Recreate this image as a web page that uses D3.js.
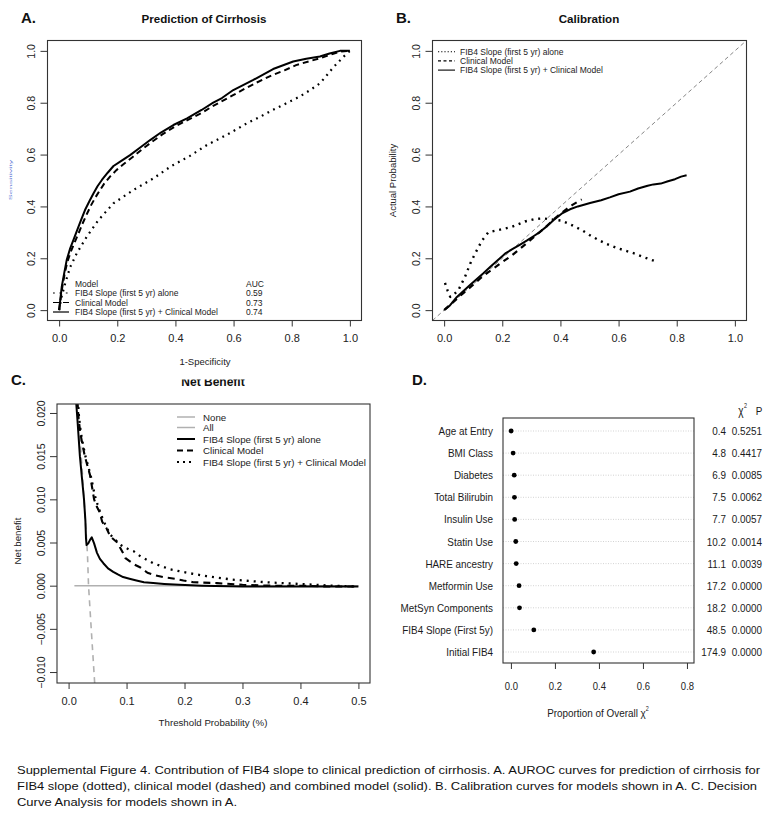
<!DOCTYPE html>
<html><head><meta charset="utf-8">
<script src="https://cdn.jsdelivr.net/npm/d3@7"></script>
<style>body{margin:0;background:#fff} text{font-family:"Liberation Sans",Arial,sans-serif}</style>
</head><body>
<svg id="fig" width="773" height="816"></svg>
<script>
// ---------- Panel A: ROC ----------
const rocTicks = [0, 0.2, 0.4, 0.6, 0.8, 1.0];
const rocFIB4 = [[0,0],[0.008,0.05],[0.021,0.104],[0.038,0.166],[0.061,0.22],[0.095,0.283],[0.135,0.347],[0.187,0.412],[0.255,0.463],[0.324,0.508],[0.385,0.555],[0.45,0.595],[0.51,0.638],[0.575,0.675],[0.645,0.72],[0.69,0.745],[0.735,0.772],[0.78,0.797],[0.828,0.824],[0.865,0.85],[0.897,0.875],[0.92,0.905],[0.942,0.935],[0.965,0.962],[0.985,0.985],[1,1]];
const rocClinical = [[0,0],[0.006,0.05],[0.011,0.09],[0.019,0.14],[0.028,0.185],[0.04,0.225],[0.053,0.26],[0.07,0.305],[0.083,0.34],[0.095,0.37],[0.11,0.405],[0.125,0.435],[0.14,0.462],[0.155,0.488],[0.175,0.515],[0.197,0.54],[0.22,0.562],[0.252,0.59],[0.285,0.62],[0.318,0.648],[0.355,0.678],[0.398,0.708],[0.445,0.735],[0.49,0.76],[0.53,0.788],[0.555,0.803],[0.6,0.83],[0.64,0.855],[0.68,0.878],[0.73,0.905],[0.775,0.925],[0.815,0.945],[0.86,0.96],[0.9,0.972],[0.94,0.988],[0.97,0.998],[1,1]];
const rocCombined = [[0,0],[0.005,0.05],[0.009,0.09],[0.017,0.14],[0.026,0.193],[0.037,0.235],[0.049,0.27],[0.066,0.32],[0.078,0.355],[0.089,0.386],[0.104,0.42],[0.118,0.45],[0.132,0.478],[0.147,0.502],[0.167,0.53],[0.187,0.556],[0.21,0.573],[0.244,0.598],[0.28,0.628],[0.313,0.656],[0.35,0.685],[0.393,0.714],[0.44,0.74],[0.49,0.772],[0.53,0.8],[0.56,0.818],[0.599,0.849],[0.668,0.888],[0.736,0.93],[0.805,0.959],[0.85,0.97],[0.897,0.978],[0.93,0.99],[0.966,1.0],[1,1]];
const aucModels = ["FIB4 Slope (first 5 yr) alone", "Clinical Model", "FIB4 Slope (first 5 yr) + Clinical Model"];
const aucValues = ["0.59", "0.73", "0.74"];

// ---------- Panel B: calibration ----------
const calTicks = [0, 0.2, 0.4, 0.6, 0.8, 1.0];
const calFIB4 = [[0.003,0.105],[0.012,0.075],[0.021,0.051],[0.035,0.062],[0.049,0.077],[0.072,0.129],[0.09,0.18],[0.105,0.215],[0.13,0.268],[0.152,0.3],[0.187,0.309],[0.233,0.321],[0.278,0.342],[0.31,0.351],[0.34,0.354],[0.37,0.35],[0.404,0.345],[0.439,0.328],[0.473,0.309],[0.507,0.285],[0.553,0.258],[0.599,0.238],[0.656,0.218],[0.69,0.203],[0.733,0.186]];
const calClinical = [[0.0,0.0],[0.05,0.05],[0.1,0.098],[0.124,0.122],[0.151,0.146],[0.175,0.165],[0.198,0.184],[0.232,0.21],[0.272,0.247],[0.313,0.286],[0.347,0.318],[0.381,0.354],[0.41,0.38],[0.44,0.405],[0.473,0.427]];
const calCombined = [[0.003,0.003],[0.02,0.018],[0.044,0.051],[0.089,0.097],[0.135,0.142],[0.16,0.168],[0.192,0.2],[0.212,0.22],[0.233,0.234],[0.26,0.252],[0.284,0.268],[0.31,0.287],[0.33,0.302],[0.355,0.325],[0.376,0.347],[0.404,0.372],[0.433,0.389],[0.46,0.4],[0.502,0.413],[0.54,0.424],[0.57,0.435],[0.6,0.447],[0.639,0.457],[0.667,0.469],[0.7,0.48],[0.72,0.485],[0.745,0.488],[0.77,0.497],[0.794,0.505],[0.815,0.515],[0.834,0.52]];

// ---------- Panel C: net benefit ----------
const nbTicksX = [0, 0.1, 0.2, 0.3, 0.4, 0.5];
const nbTicksY = [-0.010, -0.005, 0, 0.005, 0.010, 0.015, 0.020];
const nbNone = [[0.01,0],[0.5,0]];
const nbAll = [[0.016,0.0212],[0.020,0.0168],[0.025,0.0118],[0.030,0.0064],[0.0326,0.0036],[0.0344,0.0],[0.040,-0.0060],[0.0455,-0.0118]];
const nbFIB4 = [[0.0128,0.0215],[0.0155,0.019],[0.0195,0.015],[0.023,0.0125],[0.0266,0.010],[0.029,0.0075],[0.030,0.0055],[0.031,0.0047],[0.034,0.0049],[0.037,0.0053],[0.040,0.0056],[0.044,0.0049],[0.049,0.0038],[0.054,0.0031],[0.060,0.0026],[0.068,0.0020],[0.077,0.0016],[0.085,0.0013],[0.094,0.0010],[0.105,0.0008],[0.117,0.0006],[0.13,0.0004],[0.146,0.0003],[0.165,0.0002],[0.191,0.0001],[0.23,0.0],[0.3,-0.0001],[0.4,-0.0001],[0.5,-0.0001]];
const nbClinical = [[0.0151,0.0215],[0.017,0.0195],[0.020,0.0178],[0.024,0.0163],[0.028,0.0150],[0.032,0.0140],[0.037,0.0128],[0.044,0.0100],[0.049,0.0091],[0.053,0.0086],[0.058,0.0074],[0.065,0.0067],[0.072,0.0057],[0.084,0.0050],[0.093,0.0039],[0.098,0.0032],[0.112,0.0025],[0.124,0.0021],[0.136,0.0015],[0.15,0.0012],[0.163,0.0010],[0.184,0.0008],[0.198,0.0006],[0.215,0.0004],[0.256,0.0003],[0.3,0.0001],[0.35,0.0],[0.4,0.0],[0.45,-0.0001],[0.5,-0.0001]];
const nbCombined = [[0.016,0.0215],[0.018,0.0195],[0.021,0.0178],[0.025,0.0163],[0.029,0.0150],[0.034,0.0138],[0.039,0.0125],[0.045,0.0105],[0.050,0.0094],[0.055,0.0084],[0.061,0.0074],[0.066,0.0067],[0.072,0.0059],[0.081,0.0053],[0.086,0.0049],[0.095,0.0045],[0.104,0.0042],[0.112,0.0040],[0.124,0.0034],[0.146,0.0026],[0.175,0.0019],[0.204,0.0015],[0.238,0.0011],[0.283,0.0007],[0.34,0.0004],[0.398,0.0002],[0.455,0.0],[0.5,-0.0001]];
const nbLegend = ["None", "All", "FIB4 Slope (first 5 yr) alone", "Clinical Model", "FIB4 Slope (first 5 yr) + Clinical Model"];

// ---------- Panel D: variable importance ----------
const dLabels = ["Age at Entry","BMI Class","Diabetes","Total Bilirubin","Insulin Use","Statin Use","HARE ancestry","Metformin Use","MetSyn Components","FIB4 Slope (First 5y)","Initial FIB4"];
const dProp = [0.001,0.010,0.015,0.016,0.017,0.022,0.024,0.037,0.039,0.104,0.376];
const dChi2 = ["0.4","4.8","6.9","7.5","7.7","10.2","11.1","17.2","18.2","48.5","174.9"];
const dP = ["0.5251","0.4417","0.0085","0.0062","0.0057","0.0014","0.0039","0.0000","0.0000","0.0000","0.0000"];
const dTicks = [0, 0.2, 0.4, 0.6, 0.8];

const captionLines = [
  "Supplemental Figure 4. Contribution of FIB4 slope to clinical prediction of cirrhosis. A. AUROC curves for prediction of cirrhosis for",
  "FIB4 slope (dotted), clinical model (dashed) and combined model (solid). B. Calibration curves for models shown in A. C. Decision",
  "Curve Analysis for models shown in A."
];

// ================= drawing =================
const FONT = '"Liberation Sans", Arial, sans-serif';
const svg = d3.select("#fig");
svg.append("rect").attr("width", 773).attr("height", 816).attr("fill", "#fff");
const fmt1 = d3.format(".1f"), fmt3 = d3.format(".3f");

const STY = {
  solid:  {dash: null, w: 2},
  dashed: {dash: "6,4", w: 2},
  dotted: {dash: "1.8,4.6", w: 2.2}
};

function box(g, x, y) {
  const [x0, x1] = x.range(), [y1, y0] = y.range();
  g.append("rect").attr("x", x0).attr("y", y0).attr("width", x1 - x0).attr("height", y1 - y0)
    .attr("fill", "none").attr("stroke", "#333").attr("stroke-width", 1.1);
}
function bottomAxis(g, x, yPos, ticks, f, off, fs, sx) {
  const ax = g.append("g").attr("transform", `translate(0,${yPos})`)
    .call(d3.axisBottom(x).tickValues(ticks).tickFormat(f).tickSize(6).tickSizeOuter(0));
  ax.attr("font-family", FONT).attr("font-size", fs);
  ax.select(".domain").remove();
  ax.selectAll("line").attr("stroke", "#333");
  ax.selectAll("text").attr("y", off).attr("dy", 0).attr("fill", "#222")
    .attr("transform", sx ? `scale(${sx},1)` : null);
}
function leftAxis(g, y, xPos, ticks, f, off, fs) {
  const ax = g.append("g").attr("transform", `translate(${xPos},0)`)
    .call(d3.axisLeft(y).tickValues(ticks).tickFormat(f).tickSize(7).tickSizeOuter(0));
  ax.attr("font-family", FONT).attr("font-size", fs);
  ax.select(".domain").remove();
  ax.selectAll("line").attr("stroke", "#333");
  ax.selectAll("text").attr("x", 0).attr("y", 0).attr("dy", 0).attr("fill", "#222")
    .attr("text-anchor", "middle").attr("transform", `translate(${-off},0) rotate(-90)`);
}
function curve(g, data, x, y, st, color) {
  return g.append("path").datum(data)
    .attr("d", d3.line().x(d => x(d[0])).y(d => y(d[1])))
    .attr("fill", "none").attr("stroke", color || "#000")
    .attr("stroke-width", st.w).attr("stroke-dasharray", st.dash)
    .attr("stroke-linejoin", "round");
}
function text(g, s, x, y, o) {
  o = o || {};
  return g.append("text").attr("x", x).attr("y", y).text(s)
    .attr("font-size", o.fs || 10).attr("font-weight", o.bold ? "bold" : null)
    .attr("text-anchor", o.anchor || "start").attr("fill", o.fill || "#111")
    .attr("font-family", FONT);
}
function legendSample(g, x0, x1, y, st, color, w) {
  g.append("line").attr("x1", x0).attr("x2", x1).attr("y1", y).attr("y2", y)
    .attr("stroke", color || "#000").attr("stroke-width", w || st.w).attr("stroke-dasharray", st.dash);
}

// ---------- Panel A ----------
{
  const g = svg.append("g");
  const x = d3.scaleLinear([-0.04, 1.04], [47.5, 361.5]);
  const y = d3.scaleLinear([-0.04, 1.04], [320.5, 40.5]);
  text(g, "A.", 21, 23, {fs: 15, bold: true});
  text(g, "Prediction of Cirrhosis", 204, 23, {fs: 11.6, bold: true, anchor: "middle"});
  curve(g, rocFIB4, x, y, STY.dotted);
  curve(g, rocClinical, x, y, STY.dashed);
  curve(g, rocCombined, x, y, STY.solid);
  box(g, x, y);
  bottomAxis(g, x, 320.5, rocTicks, fmt1, 21.5, 11, null);
  leftAxis(g, y, 47.5, rocTicks, fmt1, 12.5, 10.5);
  text(g, "1-Specificity", 205, 365, {fs: 9.5, anchor: "middle", fill: "#222"});
  g.append("text").text("Sensitivity").attr("font-family", FONT).attr("font-size", 9)
    .attr("fill", "#3355cc").attr("opacity", 0.75).attr("text-anchor", "middle")
    .attr("transform", "translate(12,180) rotate(-90) scale(1,0.35)");
  const fs = 8.5;
  text(g, "Model", 75, 287, {fs, fill: "#222"});
  text(g, "AUC", 246, 287, {fs, fill: "#222"});
  const sts = [STY.dotted, STY.dashed, STY.solid];
  aucModels.forEach((m, i) => {
    const yy = 293 + i * 9.5;
    legendSample(g, 53, 69, yy, sts[i], "#000", 1.2);
    text(g, m, 75, yy + 3, {fs, fill: "#222"});
    text(g, aucValues[i], 246, yy + 3, {fs, fill: "#222"});
  });
}

// ---------- Panel B ----------
{
  const g = svg.append("g");
  const x = d3.scaleLinear([-0.04, 1.04], [432.5, 746.5]);
  const y = d3.scaleLinear([-0.04, 1.04], [320.5, 40.5]);
  text(g, "B.", 396, 23, {fs: 15, bold: true});
  text(g, "Calibration", 589, 23, {fs: 11.6, bold: true, anchor: "middle"});
  const dom = x.domain();
  g.append("line").attr("x1", x(dom[0])).attr("y1", y(dom[0])).attr("x2", x(dom[1])).attr("y2", y(dom[1]))
    .attr("stroke", "#666").attr("stroke-width", 0.8).attr("stroke-dasharray", "4,3");
  curve(g, calFIB4, x, y, {dash: "2,4.8", w: 2.4});
  curve(g, calClinical, x, y, {dash: "6,5", w: 2.2});
  curve(g, calCombined, x, y, STY.solid);
  box(g, x, y);
  bottomAxis(g, x, 320.5, calTicks, fmt1, 21.5, 11, null);
  leftAxis(g, y, 432.5, calTicks, fmt1, 12.5, 10.5);
  g.append("text").text("Actual Probability").attr("font-family", FONT).attr("font-size", 9.5)
    .attr("fill", "#222").attr("text-anchor", "middle")
    .attr("transform", "translate(396,180.5) rotate(-90)");
  const fs = 8.5;
  const sts = [{dash: "1.2,2", w: 1.1}, {dash: "3,2.5", w: 1.1}, {dash: null, w: 1.1}];
  aucModels.forEach((m, i) => {
    const yy = 51.7 + i * 9.2;
    legendSample(g, 438, 455, yy, sts[i], "#000", 1.1);
    text(g, m, 460, yy + 3, {fs, fill: "#222"});
  });
}

// ---------- Panel C ----------
{
  const g = svg.append("g");
  const x = d3.scaleLinear([-0.02, 0.52], [57, 370]);
  const y = d3.scaleLinear([-0.01127, 0.02104], [683, 404]);
  text(g, "C.", 11, 385, {fs: 15, bold: true});
  svg.append("clipPath").attr("id", "titleClip").append("rect").attr("x", 100).attr("y", 379.5).attr("width", 250).attr("height", 20);
  text(g, "Net Benefit", 213, 386, {fs: 12, bold: true, anchor: "middle"}).attr("clip-path", "url(#titleClip)");
  svg.append("clipPath").attr("id", "clipC").append("rect").attr("x", 57).attr("y", 404).attr("width", 313).attr("height", 279);
  const pg = g.append("g").attr("clip-path", "url(#clipC)");
  curve(pg, nbNone, x, y, {dash: null, w: 1.5}, "#b0b0b0");
  curve(pg, nbAll, x, y, {dash: "6,5", w: 1.6}, "#b0b0b0");
  curve(pg, nbFIB4, x, y, {dash: null, w: 2});
  curve(pg, nbClinical, x, y, {dash: "7,5", w: 2.1});
  curve(pg, nbCombined, x, y, {dash: "2,5", w: 2.3});
  box(g, x, y);
  bottomAxis(g, x, 683, nbTicksX, fmt1, 22, 11, null);
  leftAxis(g, y, 57, nbTicksY, fmt3, 12, 10.5);
  text(g, "Threshold Probability (%)", 213, 726, {fs: 9.7, anchor: "middle", fill: "#222"});
  g.append("text").text("Net benefit").attr("font-family", FONT).attr("font-size", 9.7)
    .attr("fill", "#222").attr("text-anchor", "middle")
    .attr("transform", "translate(21,541) rotate(-90)");
  const fs = 9.7;
  const sts = [{dash: null, w: 1.5, c: "#b0b0b0"}, {dash: null, w: 1.5, c: "#b0b0b0"}, {dash: null, w: 2, c: "#000"}, {dash: "6,4", w: 2, c: "#000"}, {dash: "2,4", w: 2, c: "#000"}];
  const ys = [417, 427.5, 439, 450.5, 462];
  nbLegend.forEach((m, i) => {
    legendSample(g, 177, 195, ys[i], sts[i], sts[i].c, sts[i].w);
    text(g, m, 203, ys[i] + 3.5, {fs, fill: "#222"});
  });
}

// ---------- Panel D ----------
{
  const g = svg.append("g");
  const x = d3.scaleLinear([-0.036, 0.832], [503, 694]);
  const y = d3.scalePoint(dLabels, [431, 652]);
  const yBox = d3.scaleLinear([0, 1], [663, 418]);
  text(g, "D.", 412, 385, {fs: 15, bold: true});
  const SX = 0.84;
  const nt = (s, px, py, o) => {
    o = o || {};
    return g.append("text").text(s).attr("font-family", FONT).attr("font-size", o.fs || 11.8)
      .attr("fill", "#1a1a1a").attr("text-anchor", o.anchor || "end")
      .attr("transform", `translate(${px},${py}) scale(${SX},1)`);
  };
  dLabels.forEach((lab, i) => {
    const yy = y(lab);
    g.append("line").attr("x1", 503).attr("x2", 694).attr("y1", yy).attr("y2", yy)
      .attr("stroke", "#c8c8c8").attr("stroke-width", 0.8).attr("stroke-dasharray", "1,1.5");
    nt(lab, 493, yy + 4);
    nt(dChi2[i], 726, yy + 4);
    nt(dP[i], 762, yy + 4);
  });
  g.selectAll("circle.dot").data(dProp).join("circle").attr("class", "dot")
    .attr("cx", d => x(d)).attr("cy", (d, i) => y(dLabels[i])).attr("r", 2.4).attr("fill", "#000");
  box(g, x, yBox);
  bottomAxis(g, x, 663, dTicks, fmt1, 27, 11.3, SX);
  nt("χ", 741, 415, {anchor: "middle", fs: 12});
  nt("2", 745.5, 408, {anchor: "middle", fs: 6.5});
  nt("P", 759, 415, {anchor: "middle", fs: 11.8});
  const lab = g.append("text").attr("font-family", FONT).attr("font-size", 11.8).attr("fill", "#1a1a1a")
    .attr("text-anchor", "middle").attr("transform", `translate(598,717) scale(${SX},1)`);
  lab.append("tspan").text("Proportion of Overall χ");
  lab.append("tspan").text("2").attr("font-size", 6.5).attr("dy", -6);
}

// ---------- Caption ----------
{
  const ends = [760, 757, 237];
  captionLines.forEach((s, i) => {
    svg.append("text").attr("x", 17).attr("y", 774 + i * 16).text(s)
      .attr("font-family", FONT).attr("font-size", 11.8).attr("fill", "#111")
      .attr("textLength", ends[i] - 17).attr("lengthAdjust", "spacingAndGlyphs");
  });
}
</script>
</body></html>
